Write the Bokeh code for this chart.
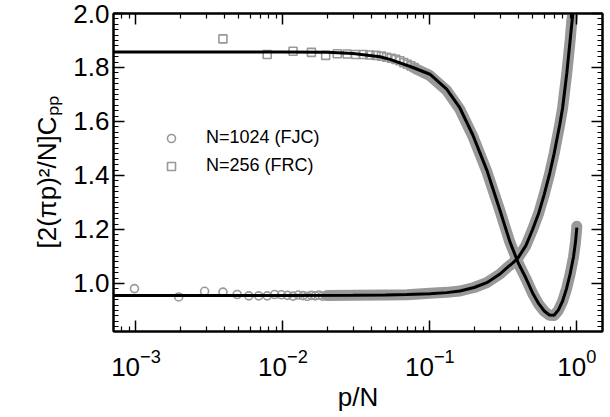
from bokeh.plotting import figure
from bokeh.models import (Range1d, LogAxis, LinearAxis, FixedTicker, PrintfTickFormatter,
                          Legend, LegendItem, ColumnDataSource)
from bokeh.embed import file_html
from bokeh.resources import INLINE

# ---------------- data ----------------
N_FJC = 1024
N_FRC = 256

# sparse individually visible points (p = 1..20)
fjc_p = list(range(1, 21))
fjc_y = [0.981, 0.950, 0.971, 0.968, 0.959, 0.954, 0.954, 0.954, 0.959, 0.958,
         0.956, 0.953, 0.957, 0.955, 0.952, 0.956, 0.954, 0.957, 0.953, 0.955]

frc_p = list(range(1, 21))
frc_y = [1.906, 1.848, 1.860, 1.856, 1.845, 1.851, 1.850, 1.848, 1.848, 1.846,
         1.845, 1.842, 1.838, 1.834, 1.830, 1.825, 1.818, 1.812, 1.806, 1.800]

# dense simulation data (markers overlap into a band)
fjc_band_x = [0.02, 0.03, 0.05, 0.07, 0.1, 0.13, 0.16, 0.2, 0.244, 0.3, 0.334, 0.367,
              0.397, 0.45, 0.5, 0.55, 0.6, 0.655, 0.7, 0.766, 0.8, 0.855, 0.9, 0.925, 0.94]
fjc_band_y = [0.955, 0.956, 0.957, 0.958, 0.964, 0.967, 0.972, 0.985, 1.003, 1.035, 1.058, 1.076,
              1.094, 1.14, 1.20, 1.26, 1.33, 1.41, 1.48, 1.59, 1.65, 1.78, 1.90, 1.975, 2.0]

frc_band_x = [0.08, 0.1, 0.13, 0.16, 0.196, 0.244, 0.30, 0.35, 0.40, 0.45, 0.50, 0.55,
              0.60, 0.65, 0.70, 0.75, 0.80, 0.85, 0.90, 0.95, 0.98, 1.0]
frc_band_y = [1.795, 1.770, 1.715, 1.645, 1.545, 1.415, 1.268, 1.153, 1.074, 1.018, 0.963, 0.923,
              0.897, 0.882, 0.881, 0.901, 0.934, 0.979, 1.034, 1.099, 1.154, 1.212]

# theory curves
fjc_fit_x = [0.0007, 0.01, 0.03, 0.05, 0.07, 0.1, 0.13, 0.16, 0.2, 0.244, 0.3, 0.334, 0.367,
             0.397, 0.45, 0.5, 0.55, 0.6, 0.655, 0.7, 0.766, 0.8, 0.855, 0.9, 0.939, 0.95]
fjc_fit_y = [0.955, 0.955, 0.956, 0.957, 0.959, 0.962, 0.966, 0.972, 0.985, 1.003, 1.035, 1.058, 1.076,
             1.094, 1.14, 1.20, 1.26, 1.33, 1.41, 1.48, 1.59, 1.65, 1.78, 1.90, 2.0, 2.03]

frc_fit_x = [0.0007, 0.01, 0.02, 0.03, 0.0457, 0.0535, 0.0766, 0.1, 0.13, 0.16, 0.196, 0.244,
             0.30, 0.35, 0.40, 0.45, 0.50, 0.55, 0.60, 0.65, 0.70, 0.75, 0.80, 0.85, 0.90,
             0.95, 0.98, 1.0]
frc_fit_y = [1.857, 1.857, 1.856, 1.852, 1.840, 1.830, 1.800, 1.775, 1.720, 1.650, 1.550, 1.420,
             1.270, 1.155, 1.075, 1.020, 0.965, 0.925, 0.898, 0.883, 0.882, 0.902, 0.935, 0.980,
             1.035, 1.100, 1.155, 1.207]

y_major = [1.0, 1.2, 1.4, 1.6, 1.8, 2.0]
x_major = [0.001, 0.01, 0.1, 1.0]
labels = ["N=1024 (FJC)", "N=256 (FRC)"]

GRAY = "#999999"
FONT = "Liberation Sans"

# ---------------- figure ----------------
p = figure(x_axis_type="log",
           x_range=Range1d(0.000703, 1.495), y_range=Range1d(0.822, 2.0),
           width=606, height=414,
           min_border_left=113, min_border_right=4, min_border_top=13, min_border_bottom=76,
           output_backend="svg", toolbar_location=None)
p.grid.visible = False
p.outline_line_color = "black"
p.outline_line_width = 2
p.background_fill_color = "white"
p.border_fill_color = "white"

x_minor = [m * 10.0 ** k for k in range(-4, 1) for m in range(2, 10)]
y_minor = [round(0.82 + 0.02 * i, 2) for i in range(0, 60)]
xt = FixedTicker(ticks=x_major, minor_ticks=x_minor)
yt = FixedTicker(ticks=y_major, minor_ticks=y_minor)


def style(ax, show):
    ax.axis_line_width = 2
    ax.major_tick_in = 11
    ax.major_tick_out = 0
    ax.minor_tick_in = 5
    ax.minor_tick_out = 0
    ax.major_tick_line_width = 1.5
    ax.minor_tick_line_width = 1.2
    ax.major_label_text_font = FONT
    ax.major_label_text_color = "black"
    ax.axis_label_text_font = FONT
    ax.axis_label_text_font_style = "normal"
    ax.axis_label_text_color = "black"
    if show:
        ax.major_label_text_font_size = "26px"
        ax.axis_label_text_font_size = "26px"
    else:
        ax.major_label_text_font_size = "1px"
        ax.major_label_text_alpha = 0
        ax.major_label_standoff = 0


xa = p.xaxis[0]
xa.ticker = xt
style(xa, True)
xa.axis_label = "p/N"
xa.major_label_standoff = 17
xa.axis_label_standoff = 3

ya = p.yaxis[0]
ya.ticker = yt
ya.formatter = PrintfTickFormatter(format="%.1f")
style(ya, True)
ya.axis_label = "[2(πp)²/N]Cₚₚ"
ya.major_label_standoff = 4
ya.axis_label_standoff = 8

top = LogAxis(ticker=xt)
style(top, False)
p.add_layout(top, "above")
right = LinearAxis(ticker=yt, formatter=PrintfTickFormatter(format="%.1f"))
style(right, False)
p.add_layout(right, "right")

# bands of dense simulation points
p.line(fjc_band_x, fjc_band_y, line_color=GRAY, line_width=11, line_cap="round", line_join="round")
p.line(frc_band_x, frc_band_y, line_color=GRAY, line_width=11, line_cap="round", line_join="round")

# individual points
src_fjc = ColumnDataSource(dict(x=[v / N_FJC for v in fjc_p], y=fjc_y))
src_frc = ColumnDataSource(dict(x=[v / N_FRC for v in frc_p], y=frc_y))
r_c = p.scatter("x", "y", source=src_fjc, marker="circle", size=8, fill_color=None,
                line_color=GRAY, line_width=1.6)
r_s = p.scatter("x", "y", source=src_frc, marker="square", size=8, fill_color=None,
                line_color=GRAY, line_width=1.6)

# theory
p.line(fjc_fit_x, fjc_fit_y, line_color="black", line_width=3)
p.line(frc_fit_x, frc_fit_y, line_color="black", line_width=3)

legend = Legend(items=[LegendItem(label=labels[0], renderers=[r_c]),
                       LegendItem(label=labels[1], renderers=[r_s])],
                location=(48, 155), orientation="vertical",
                padding=0, margin=0, spacing=7,
                glyph_width=20, glyph_height=20, label_height=20,
                label_standoff=25,
                label_text_font=FONT, label_text_font_size="18px",
                label_text_color="black",
                border_line_color=None, background_fill_alpha=0)
p.add_layout(legend, "center")

open("out.html", "w").write(file_html(p, INLINE))
